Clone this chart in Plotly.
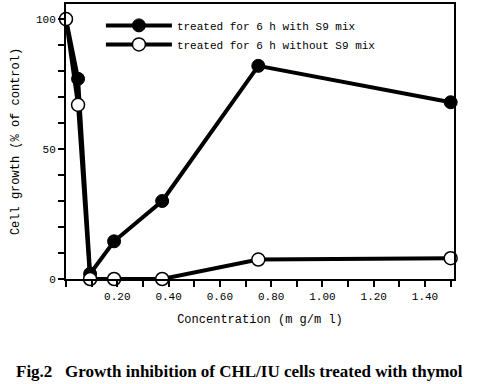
import plotly.graph_objects as go

conc = [0.0, 0.047, 0.094, 0.1875, 0.375, 0.75, 1.5]
with_s9 = [100, 77, 2, 14.5, 30, 82, 68]
without_s9 = [100, 67, 0, 0, 0, 7.5, 8]
x_tickvals = [0.2, 0.4, 0.6, 0.8, 1.0, 1.2, 1.4]
x_ticktext = ["0.20", "0.40", "0.60", "0.80", "1.00", "1.20", "1.40"]
y_tickvals = [0, 50, 100]

mono = "Liberation Mono, Courier New, monospace"

fig = go.Figure()
fig.add_trace(go.Scatter(
    x=conc, y=with_s9, mode="lines+markers", name="treated for 6 h with S9 mix",
    line=dict(color="black", width=4),
    marker=dict(symbol="circle", size=13, color="black", line=dict(color="black", width=1)),
    cliponaxis=False))
fig.add_trace(go.Scatter(
    x=conc, y=without_s9, mode="lines+markers", name="treated for 6 h without S9 mix",
    line=dict(color="black", width=4),
    marker=dict(symbol="circle", size=13, color="white", line=dict(color="black", width=1.5)),
    cliponaxis=False))

fig.update_layout(
    width=481, height=384,
    margin=dict(l=66, r=27, t=4, b=105, autoexpand=False),
    paper_bgcolor="white", plot_bgcolor="white",
    font=dict(family=mono, size=11, color="black"),
    showlegend=True,
    legend=dict(x=0.09, y=0.975, xanchor="left", yanchor="top",
                bgcolor="rgba(0,0,0,0)", font=dict(family=mono, size=11),
                tracegroupgap=0, itemwidth=66),
    xaxis=dict(range=[0, 1.513], tickvals=x_tickvals, ticktext=x_ticktext,
               automargin=False,
               showgrid=False, zeroline=False, showline=True, linecolor="black",
               linewidth=2, mirror=True, ticks="outside", ticklen=6, tickwidth=2,
               tickcolor="black",
               minor=dict(dtick=0.1, tick0=0, ticks="outside", ticklen=6, tickwidth=2,
                          tickcolor="black"),
               title=dict(text="Concentration (m g/m l)", font=dict(family=mono, size=12),
                          standoff=12),
               tickfont=dict(family=mono, size=11)),
    yaxis=dict(range=[0, 105.8], tickvals=y_tickvals,
               automargin=False,
               showgrid=False, zeroline=False, showline=True, linecolor="black",
               linewidth=2, mirror=True, ticks="outside", ticklen=6, tickwidth=2,
               tickcolor="black",
               minor=dict(dtick=10, tick0=0, ticks="outside", ticklen=6, tickwidth=2,
                          tickcolor="black"),
               title=dict(text="Cell growth (% of control)", font=dict(family=mono, size=12),
                          standoff=14),
               tickfont=dict(family=mono, size=11)),
    annotations=[dict(text="<b>Fig.2   Growth inhibition of CHL/IU cells treated with thymol</b>",
                      x=(239 - 66) / 388.0, y=-(371 - 279) / 275.0, xref="paper", yref="paper",
                      xanchor="center", yanchor="middle", showarrow=False,
                      font=dict(family="Liberation Serif, Times New Roman, serif", size=17,
                                color="black"))],
)

fig.write_html("out.html", config={"displayModeBar": False},
               post_script="document.body.style.margin='0';document.body.style.overflow='hidden';")
